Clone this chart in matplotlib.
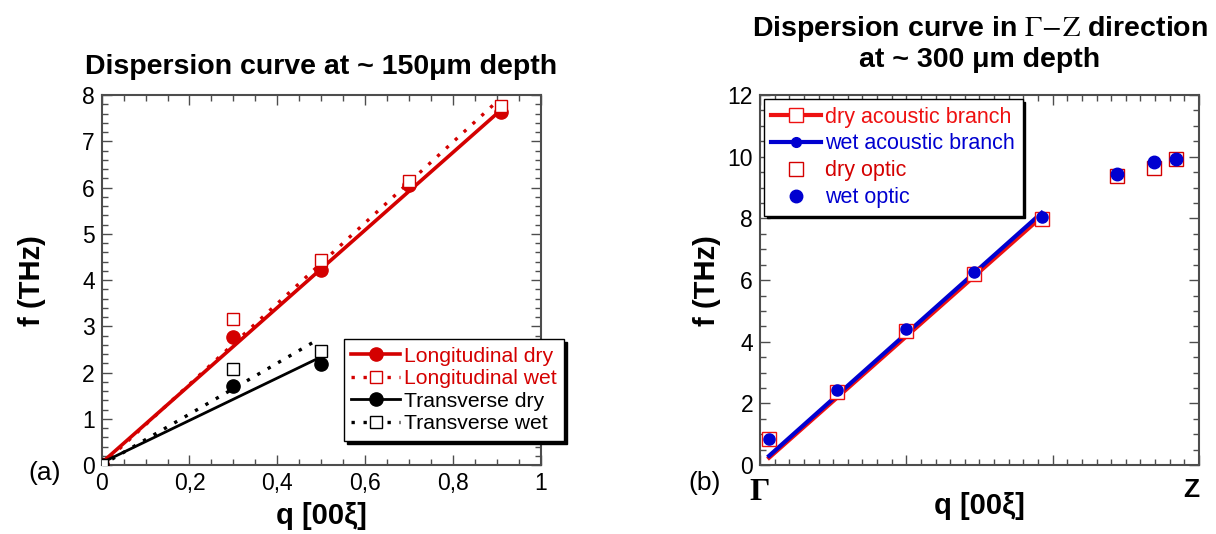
import matplotlib
matplotlib.use("Agg")
import matplotlib.pyplot as plt
import matplotlib as mpl
from matplotlib.lines import Line2D
from matplotlib.ticker import MultipleLocator, FixedLocator

mpl.rcParams['font.family'] = ['Liberation Sans', 'DejaVu Sans']
mpl.rcParams['mathtext.fontset'] = 'stix'
mpl.rcParams['xtick.direction'] = 'in'
mpl.rcParams['ytick.direction'] = 'in'
mpl.rcParams['xtick.top'] = True
mpl.rcParams['ytick.right'] = True

# ---- panel (a): ~150 um depth ----
q_long = [0.0, 0.3, 0.5, 0.7, 0.91]
long_dry = [0.0, 2.76, 4.22, 6.05, 7.64]
long_wet = [0.0, 3.15, 4.43, 6.14, 7.76]
q_trans = [0.0, 0.3, 0.5]
trans_dry = [0.0, 1.71, 2.18]
trans_wet = [0.0, 2.07, 2.47]
# linear fits
q_fit_long_dry = [0.0, 0.91]
f_fit_long_dry = [0.05, 7.68]
q_fit_long_wet = [0.0, 0.896]
f_fit_long_wet = [0.0, 7.82]
q_fit_trans_dry = [0.0, 0.5]
f_fit_trans_dry = [0.05, 2.34]
q_fit_trans_wet = [0.0, 0.49]
f_fit_trans_wet = [0.0, 2.70]
xticks_a = [0, 0.2, 0.4, 0.6, 0.8, 1.0]
xlabels_a = ['0', '0,2', '0,4', '0,6', '0,8', '1']

# ---- panel (b): ~300 um depth, Gamma-Z ----
q_ac = [0.062, 0.528, 0.996, 1.465, 1.925]
dry_ac = [0.84, 2.38, 4.36, 6.19, 7.98]
wet_ac = [0.86, 2.42, 4.41, 6.26, 8.05]
q_opt = [2.44, 2.695, 2.843]
dry_opt = [9.38, 9.65, 9.92]
wet_opt = [9.43, 9.84, 9.94]
q_fit_dry = [0.062, 1.90]
f_fit_dry = [0.24, 7.95]
q_fit_wet = [0.062, 1.925]
f_fit_wet = [0.30, 8.18]

RED = '#d40000'
RED2 = '#ee1111'
BLUE = '#0000d0'
FRAME = '0.3'
DOTS = (1.0, 2.6)

fig = plt.figure(figsize=(12.16, 5.34), dpi=100)
ax1 = fig.add_axes([0.0836, 0.129, 0.361, 0.693])
ax2 = fig.add_axes([0.625, 0.129, 0.361, 0.693])

# panel a
ax1.plot(q_fit_long_dry, f_fit_long_dry, '-', color=RED, lw=2.6)
ax1.plot(q_fit_long_wet, f_fit_long_wet, color=RED, lw=2.4, dashes=DOTS)
ax1.plot(q_fit_trans_dry, f_fit_trans_dry, '-', color='k', lw=2.0)
ax1.plot(q_fit_trans_wet, f_fit_trans_wet, color='k', lw=2.4, dashes=DOTS)
ax1.plot(q_long, long_dry, 'o', color=RED, ms=9.5, zorder=4)
ax1.plot(q_long, long_wet, 's', mfc='white', mec=RED, ms=9, mew=1.0, zorder=5)
ax1.plot(q_trans, trans_dry, 'o', color='k', ms=9.5, zorder=4)
ax1.plot(q_trans, trans_wet, 's', mfc='white', mec='k', ms=9, mew=1.0, zorder=5)

ax1.set_xlim(0, 1)
ax1.set_ylim(0, 8)
ax1.set_xticks(xticks_a)
ax1.set_xticklabels(xlabels_a)
ax1.xaxis.set_minor_locator(MultipleLocator(0.05))
ax1.yaxis.set_major_locator(MultipleLocator(1))
ax1.yaxis.set_minor_locator(MultipleLocator(0.2))
ax1.set_xlabel('q [00ξ]', fontsize=21, fontweight='bold')
ax1.set_ylabel('f (THz)', fontsize=21, fontweight='bold')
ax1.xaxis.set_label_coords(0.5, -0.1)
ax1.yaxis.set_label_coords(-0.127, 0.5)
ax1.text(0.5, 1.076, 'Dispersion curve at ~ 150μm depth', transform=ax1.transAxes,
         ha='center', va='center', fontsize=20.5, fontweight='bold')

h_a = [
    Line2D([], [], color=RED, lw=2.6, marker='o', ms=9.5),
    Line2D([], [], color=RED, lw=2.4, dashes=DOTS, marker='s', mfc='white', mec=RED, ms=9, mew=1.0),
    Line2D([], [], color='k', lw=2.0, marker='o', ms=9.5),
    Line2D([], [], color='k', lw=2.4, dashes=DOTS, marker='s', mfc='white', mec='k', ms=9, mew=1.0),
]
leg1 = ax1.legend(h_a, ['Longitudinal dry', 'Longitudinal wet', 'Transverse dry', 'Transverse wet'],
                  loc='upper left', bbox_to_anchor=(0.552, 0.34), borderaxespad=0,
                  fontsize=15.2, handlelength=2.3, handletextpad=0.2, labelspacing=0.17,
                  borderpad=0.35, fancybox=False, framealpha=1, edgecolor='k',
                  shadow={'color': 'k', 'alpha': 1, 'ox': 2, 'oy': -2})
for t, c in zip(leg1.get_texts(), [RED, RED, 'k', 'k']):
    t.set_color(c)

# panel b
ax2.plot(q_fit_dry, f_fit_dry, '-', color=RED2, lw=3)
ax2.plot(q_fit_wet, f_fit_wet, '-', color=BLUE, lw=3)
ax2.plot(q_ac, dry_ac, 's', mfc='white', mec=RED2, ms=10, mew=1.0, zorder=4)
ax2.plot(q_ac, wet_ac, 'o', color=BLUE, ms=8, zorder=5)
ax2.plot(q_opt, dry_opt, 's', mfc='white', mec=RED, ms=10, mew=1.0, zorder=4)
ax2.plot(q_opt, wet_opt, 'o', color=BLUE, ms=9, zorder=5)

ax2.set_xlim(0, 3)
ax2.set_ylim(0, 12)
ax2.xaxis.set_major_locator(FixedLocator([0, 1, 2, 3]))
ax2.set_xticklabels(['Γ', '', '', 'Z'])
ax2.xaxis.set_minor_locator(MultipleLocator(0.1))
ax2.yaxis.set_major_locator(MultipleLocator(2))
ax2.yaxis.set_minor_locator(MultipleLocator(0.5))
ax2.set_xlabel('q [00ξ]', fontsize=21, fontweight='bold')
ax2.set_ylabel('f (THz)', fontsize=21, fontweight='bold')
ax2.xaxis.set_label_coords(0.5, -0.073)
ax2.yaxis.set_label_coords(-0.089, 0.5)
ax2.text(0.5, 1.14, 'Dispersion curve in $\\Gamma\\!-\\!\\mathrm{Z}$ direction\nat ~ 300 μm depth',
         transform=ax2.transAxes, ha='center', va='center', fontsize=20.5,
         fontweight='bold', linespacing=1.15)

h_b = [
    Line2D([], [], color=RED2, lw=3, marker='s', mfc='white', mec=RED2, ms=10, mew=1.0),
    Line2D([], [], color=BLUE, lw=3, marker='o', ms=7),
    Line2D([], [], ls='none', marker='s', mfc='white', mec=RED, ms=10, mew=1.0),
    Line2D([], [], ls='none', marker='o', color=BLUE, ms=9),
]
leg2 = ax2.legend(h_b, ['dry acoustic branch', 'wet acoustic branch', 'dry optic', 'wet optic'],
                  loc='upper left', bbox_to_anchor=(0.009, 0.989), borderaxespad=0,
                  fontsize=15.5, handlelength=2.3, handletextpad=0.2, labelspacing=0.27,
                  borderpad=0.35, fancybox=False, framealpha=1, edgecolor='k',
                  shadow={'color': 'k', 'alpha': 1, 'ox': 2, 'oy': -2})
for t, c in zip(leg2.get_texts(), [RED2, BLUE, RED, BLUE]):
    t.set_color(c)

for ax in (ax1, ax2):
    ax.tick_params(which='major', length=7, width=1, labelsize=16.5, color=FRAME, pad=5)
    ax.tick_params(which='minor', length=4, width=1, color=FRAME)
    for s in ax.spines.values():
        s.set_linewidth(1.5)
        s.set_color(FRAME)

# Gamma / Z point labels
xl = ax2.get_xticklabels()
xl[0].set_fontfamily('Liberation Serif')
xl[0].set_fontsize(23)
xl[0].set_fontweight('bold')
xl[3].set_fontweight('bold')
xl[3].set_fontsize(19)
xl[3].set_horizontalalignment('right')
ax2.tick_params(axis='x', which='major', pad=9)

fig.text(0.037, 0.114, '(a)', fontsize=19, ha='center', va='center')
fig.text(0.579, 0.0955, '(b)', fontsize=19, ha='center', va='center')

fig.savefig('out.png', dpi=100)
